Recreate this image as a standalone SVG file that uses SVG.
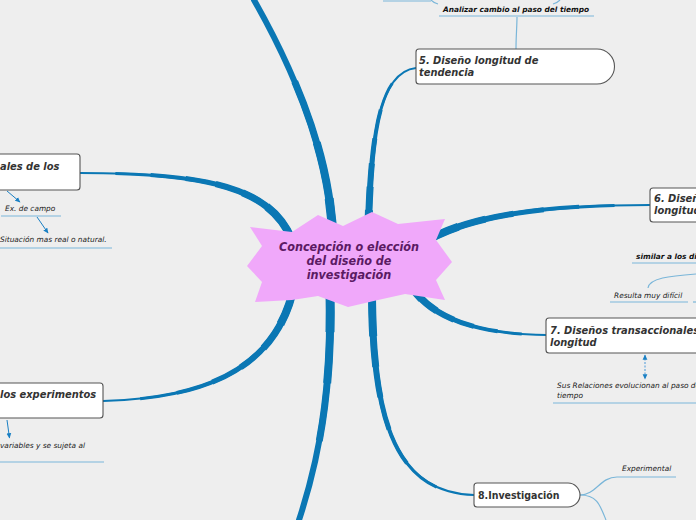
<svg xmlns="http://www.w3.org/2000/svg" width="696" height="520" viewBox="0 0 696 520">
<defs>
<style>
.bg{fill:#eeeeee}
.br{fill:none;stroke:#0a77b4;stroke-linecap:round}
.t1,.t2,.t3,.t4,.t5,.t6{fill:none;stroke:#0a77b4;stroke-linecap:butt}
.t1{stroke-width:3;stroke-dasharray:85 200}
.t2{stroke-width:4;stroke-dasharray:70 200}
.t3{stroke-width:5;stroke-dasharray:55 200}
.t4{stroke-width:6;stroke-dasharray:42 200}
.t5{stroke-width:7;stroke-dasharray:30 200}
.t6{stroke-width:8;stroke-dasharray:18 200}
.w1,.w2,.w3{fill:none;stroke:#0a77b4;stroke-linecap:butt}
.w1{stroke-width:7;stroke-dasharray:65 200}
.w2{stroke-width:8;stroke-dasharray:40 200}
.w3{stroke-width:9;stroke-dasharray:18 200}
.thin{fill:none;stroke:#7ab6d9;stroke-width:1.2}
.ul{stroke:#7ab6d9;stroke-width:1.2}
.box{fill:#ffffff;stroke:#555555;stroke-width:1.1}
.nt{font-family:"DejaVu Sans Condensed","DejaVu Sans",sans-serif;font-size:11px;font-weight:bold;font-style:italic;fill:#333333}
.st{font-family:"DejaVu Sans","Verdana",sans-serif;font-size:7.4px;font-style:italic;fill:#222222}
.sb{font-family:"DejaVu Sans","Verdana",sans-serif;font-size:7.4px;font-style:italic;font-weight:bold;fill:#111111}
.ct{font-family:"DejaVu Sans Condensed","DejaVu Sans",sans-serif;font-size:12.5px;font-weight:bold;font-style:italic;fill:#5b1a63}
.ar{stroke:#1a80c4;stroke-width:1;fill:none}
</style>
<marker id="ah" viewBox="0 0 10 10" refX="8" refY="5" markerWidth="6" markerHeight="6" orient="auto-start-reverse">
<path d="M0,1 L9,5 L0,9 Z" fill="#1a80c4"/>
</marker>
<path id="pA" d="M333,245 C332,170 305,90 254,0"/>
<path id="pF" d="M330,290 C332,380 322,450 299,520"/>
<path id="pB" d="M368,245 C370,140 378,72 416,68"/>
<path id="pE" d="M372,290 C372,430 400,493 474,495"/>
<path id="pC" d="M420,245 C470,212 560,205 650,205"/>
<path id="pD" d="M405,275 C425,320 480,334 546,335"/>
<path id="pG" d="M292,240 C270,185 200,173 80,173"/>
<path id="pH" d="M295,282 C280,360 220,398 103,401"/>
</defs>
<rect class="bg" x="0" y="0" width="696" height="520"/>

<g id="connectors">
<!-- A top -->
<path class="br" d="M333,245 C332,170 305,90 254,0" stroke-width="6"/>
<path class="w1" d="M333,245 C332,170 305,90 254,0" pathLength="100"/>
<path class="w2" d="M333,245 C332,170 305,90 254,0" pathLength="100"/>
<path class="w3" d="M333,245 C332,170 305,90 254,0" pathLength="100"/>
<!-- F bottom -->
<path class="br" d="M330,290 C332,380 322,450 299,520" stroke-width="6"/>
<path class="w1" d="M330,290 C332,380 322,450 299,520" pathLength="100"/>
<path class="w2" d="M330,290 C332,380 322,450 299,520" pathLength="100"/>
<path class="w3" d="M330,290 C332,380 322,450 299,520" pathLength="100"/>
<!-- B to node 5 -->
<path class="br" d="M368,245 C370,140 378,72 416,68" stroke-width="2"/>
<path class="t1" d="M368,245 C370,140 378,72 416,68" pathLength="100"/>
<path class="t2" d="M368,245 C370,140 378,72 416,68" pathLength="100"/>
<path class="t3" d="M368,245 C370,140 378,72 416,68" pathLength="100"/>
<path class="t4" d="M368,245 C370,140 378,72 416,68" pathLength="100"/>
<path class="t5" d="M368,245 C370,140 378,72 416,68" pathLength="100"/>
<path class="t6" d="M368,245 C370,140 378,72 416,68" pathLength="100"/>
<!-- E to node 8 -->
<path class="br" d="M372,290 C372,430 400,493 474,495" stroke-width="2"/>
<path class="t1" d="M372,290 C372,430 400,493 474,495" pathLength="100"/>
<path class="t2" d="M372,290 C372,430 400,493 474,495" pathLength="100"/>
<path class="t3" d="M372,290 C372,430 400,493 474,495" pathLength="100"/>
<path class="t4" d="M372,290 C372,430 400,493 474,495" pathLength="100"/>
<path class="t5" d="M372,290 C372,430 400,493 474,495" pathLength="100"/>
<path class="t6" d="M372,290 C372,430 400,493 474,495" pathLength="100"/>
<!-- C to node 6 -->
<path class="br" d="M420,245 C470,212 560,205 650,205" stroke-width="2"/>
<path class="t1" d="M420,245 C470,212 560,205 650,205" pathLength="100"/>
<path class="t2" d="M420,245 C470,212 560,205 650,205" pathLength="100"/>
<path class="t3" d="M420,245 C470,212 560,205 650,205" pathLength="100"/>
<path class="t4" d="M420,245 C470,212 560,205 650,205" pathLength="100"/>
<path class="t5" d="M420,245 C470,212 560,205 650,205" pathLength="100"/>
<path class="t6" d="M420,245 C470,212 560,205 650,205" pathLength="100"/>
<!-- D to node 7 -->
<path class="br" d="M405,275 C425,320 480,334 546,335" stroke-width="2"/>
<path class="t1" d="M405,275 C425,320 480,334 546,335" pathLength="100"/>
<path class="t2" d="M405,275 C425,320 480,334 546,335" pathLength="100"/>
<path class="t3" d="M405,275 C425,320 480,334 546,335" pathLength="100"/>
<path class="t4" d="M405,275 C425,320 480,334 546,335" pathLength="100"/>
<path class="t5" d="M405,275 C425,320 480,334 546,335" pathLength="100"/>
<path class="t6" d="M405,275 C425,320 480,334 546,335" pathLength="100"/>
<!-- G to left top node -->
<path class="br" d="M292,240 C270,185 200,173 80,173" stroke-width="2"/>
<path class="t1" d="M292,240 C270,185 200,173 80,173" pathLength="100"/>
<path class="t2" d="M292,240 C270,185 200,173 80,173" pathLength="100"/>
<path class="t3" d="M292,240 C270,185 200,173 80,173" pathLength="100"/>
<path class="t4" d="M292,240 C270,185 200,173 80,173" pathLength="100"/>
<path class="t5" d="M292,240 C270,185 200,173 80,173" pathLength="100"/>
<path class="t6" d="M292,240 C270,185 200,173 80,173" pathLength="100"/>
<!-- H to left bottom node -->
<path class="br" d="M295,282 C280,360 220,398 103,401" stroke-width="2"/>
<path class="t1" d="M295,282 C280,360 220,398 103,401" pathLength="100"/>
<path class="t2" d="M295,282 C280,360 220,398 103,401" pathLength="100"/>
<path class="t3" d="M295,282 C280,360 220,398 103,401" pathLength="100"/>
<path class="t4" d="M295,282 C280,360 220,398 103,401" pathLength="100"/>
<path class="t5" d="M295,282 C280,360 220,398 103,401" pathLength="100"/>
<path class="t6" d="M295,282 C280,360 220,398 103,401" pathLength="100"/>

<!-- thin sub-connectors -->
<path class="thin" d="M516,49 C516,36 517,26 517,17"/>
<path class="thin" d="M580,495 C596,495 600,477 617,477"/>
<path class="thin" d="M580,495 C597,495 600,505 606,520"/>
<path class="thin" d="M696,274 C670,276 649,278 648,288"/>
<path class="thin" d="M431,0 Q434,3 438,4"/>
<path class="thin" d="M553,4 Q557,3 560,0"/>

<!-- arrows -->
<line class="ar" x1="7" y1="191" x2="20" y2="202" marker-end="url(#ah)"/>
<line class="ar" x1="37" y1="217" x2="48" y2="233" marker-end="url(#ah)"/>
<line class="ar" x1="7" y1="420" x2="9.5" y2="438" marker-end="url(#ah)"/>
<line x1="645" y1="355" x2="645" y2="379" stroke="#4a98d8" stroke-width="1" stroke-dasharray="2 1.5" marker-start="url(#ah)" marker-end="url(#ah)"/>
</g>

<g id="center">
<polygon points="250,227 292,232 318,215 343,226 372,212 398,224 445,219 436,240 452,262 436,280 445,300 405,294 378,300 348,307 318,296 292,300 255,302 262,282 247,266 262,246" fill="#f0a8fa"/>
<text class="ct" text-anchor="middle" x="349" y="251">Concepción o elección</text>
<text class="ct" text-anchor="middle" x="349" y="265">del diseño de</text>
<text class="ct" text-anchor="middle" x="349" y="279">investigación</text>
</g>

<g id="node-top">
<line class="ul" x1="383" y1="1" x2="431" y2="1"/>
<text class="sb" x="443" y="12">Analizar cambio al paso del tiempo</text>
<line class="ul" x1="439" y1="16" x2="594" y2="16"/>
</g>

<g id="node5">
<path class="box" d="M419,49 H597 A17.5,17.5 0 0 1 597,84 H419 Q416,84 416,81 V52 Q416,49 419,49 Z"/>
<text class="nt" x="419" y="64">5. Diseño longitud de</text>
<text class="nt" x="419" y="76">tendencia</text>
</g>

<g id="node-left1">
<rect class="box" x="-6" y="154" width="86" height="36" rx="3"/>
<text class="nt" x="0" y="170">ales de los</text>
<text class="st" x="5" y="211">Ex. de campo</text>
<line class="ul" x1="1" y1="216" x2="61" y2="216"/>
<text class="st" x="0" y="242">Situación mas real o natural.</text>
<line class="ul" x1="0" y1="248" x2="112" y2="248"/>
</g>

<g id="node-left2">
<rect class="box" x="-6" y="383" width="109" height="35" rx="3"/>
<text class="nt" x="0" y="398">los experimentos</text>
<text class="st" x="0" y="448">variables y se sujeta al</text>
<line class="ul" x1="0" y1="462" x2="104" y2="462"/>
</g>

<g id="node6">
<rect class="box" x="650" y="188" width="60" height="34" rx="3"/>
<text class="nt" x="654" y="202">6. Diseño</text>
<text class="nt" x="654" y="214">longitud</text>
<text class="sb" x="636" y="259">similar a los diseños</text>
<line class="ul" x1="632" y1="263" x2="696" y2="263"/>
<text class="st" x="614" y="298">Resulta muy difícil</text>
<line class="ul" x1="610" y1="302" x2="688" y2="302"/>
<line class="ul" x1="693" y1="302" x2="696" y2="302"/>
</g>

<g id="node7">
<rect class="box" x="546" y="318" width="160" height="35" rx="3"/>
<text class="nt" x="550" y="334">7. Diseños transaccionales</text>
<text class="nt" x="550" y="346">longitud</text>
<text class="st" x="557" y="388">Sus Relaciones evolucionan al paso del</text>
<text class="st" x="557" y="398">tiempo</text>
<line class="ul" x1="553" y1="403" x2="696" y2="403"/>
</g>

<g id="node8">
<path class="box" d="M477,483 H568 A12,12 0 0 1 568,507 H477 Q474,507 474,504 V486 Q474,483 477,483 Z"/>
<text x="478" y="499" font-family="'DejaVu Sans Condensed','DejaVu Sans',sans-serif" font-size="10.5px" font-weight="bold" fill="#333333">8.Investigación</text>
<text class="st" x="622" y="471">Experimental</text>
<line class="ul" x1="617" y1="477" x2="676" y2="477"/>
</g>
</svg>
